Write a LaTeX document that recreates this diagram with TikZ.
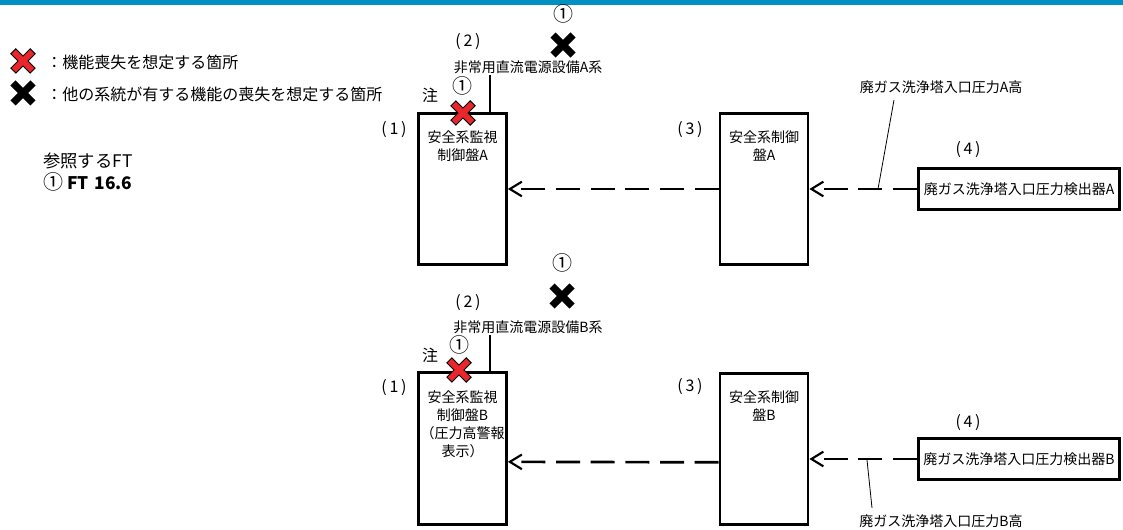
\documentclass[tikz,border=0pt]{standalone}
\usepackage{fontspec}
\setmainfont{Noto Sans CJK JP}
\usetikzlibrary{arrows.meta,positioning}
\definecolor{barblue}{RGB}{0,145,194}
\definecolor{lossred}{RGB}{232,38,43}

\begin{document}
\begin{tikzpicture}[
  x=0.75pt, y=-0.75pt,
  font=\fontsize{10.5}{13.5}\selectfont,
  panel/.style={draw,line width=2pt,minimum width=66pt,minimum height=113.5pt,inner sep=0pt},
  sensor/.style={draw,line width=2pt,minimum width=151pt,minimum height=31pt,inner sep=0pt},
  boxtext/.style={align=center,inner sep=0pt},
  tag/.style={inner sep=1pt},
  num/.style={inner sep=1pt,font=\fontsize{12}{14}\selectfont},
  circ/.style={inner sep=0pt,font=\fontsize{15}{17}\selectfont},
  legend/.style={anchor=west,inner sep=0pt,font=\fontsize{12}{14}\selectfont},
  sig/.style={-{Straight Barb[length=9pt,width=11pt,line width=1.6pt]},line width=2pt,dash pattern=on 18pt off 8pt},
  pole/.style={line width=2.2pt},
  lead/.style={line width=0.6pt},
  lossx/.pic={
    \draw[line width=6pt] (-10,-10) -- (10,10) (-10,10) -- (10,-10);
    \draw[lossred,line width=4.4pt] (-9.2,-9.2) -- (9.2,9.2) (-9.2,9.2) -- (9.2,-9.2);
  },
  otherx/.pic={
    \draw[line width=5.4pt] (-10,-10) -- (10,10) (-10,10) -- (10,-10);
  }
]
  \useasboundingbox (0,0) rectangle (1123,530);
  \fill[barblue] (0,0) rectangle (1123,5);

  % legend
  \pic at (23,61) {lossx};
  \pic at (23,93) {otherx};
  \node[legend] (legloss) at (46,62) {：機能喪失を想定する箇所};
  \node[legend] (legother) at (46,94) {：他の系統が有する機能の喪失を想定する箇所};
  \node[legend,font=\fontsize{13}{15}\selectfont] (refhead) at (43,161) {参照するFT};
  \node[legend,font=\fontsize{13}{15}\selectfont] (refft) at (43,182) {{\fontsize{15}{17}\selectfont ①} \textbf{FT\hspace{0.35em}16.6}};

  % A train
  \node[panel] (smA) at (462.5,189) {};
  \node[boxtext, below=14pt of smA.north] (smAtxt) {安全系監視\\制御盤A};
  \node[panel] (scA) at (764,189) {};
  \node[boxtext, below=14pt of scA.north] (scAtxt) {安全系制御\\盤A};
  \node[sensor] (detA) at (1019,189) {廃ガス洗浄塔入口圧力検出器A};
  \node[num] (n1A) at (394,130) {(\,1\,)};
  \node[num] (n2A) at (468,42) {(\,2\,)};
  \node[num] (n3A) at (690,130) {(\,3\,)};
  \node[num] (n4A) at (968,150) {(\,4\,)};
  \node[tag] (psA) at (528,67) {非常用直流電源設備A系};
  \node[num] (noteA) at (430,95) {注};
  \pic at (463,113) {lossx};
  \node[circ] (c1A) at (462,86) {①};
  \pic at (563,45) {otherx};
  \node[circ] (c2A) at (563,14) {①};
  \node[tag] (hiA) at (941,87) {廃ガス洗浄塔入口圧力A高};
  \draw[pole] ([xshift=20.6pt]smA.north) -- ([xshift=20.6pt]smA.north |- psA.south);
  \draw[sig] (detA) -- (scA);
  \draw[sig] (scA) -- (smA);
  \coordinate (tapA) at (878,189);
  \coordinate (tipA) at (894,100);
  \draw[lead] (tapA) -- (tipA);

  % B train
  \node[panel] (smB) at (462.5,448.5) {};
  \node[boxtext, below=14pt of smB.north] (smBtxt) {安全系監視\\制御盤B\\（圧力高警報\\表示）};
  \node[panel] (scB) at (764,449) {};
  \node[boxtext, below=14pt of scB.north] (scBtxt) {安全系制御\\盤B};
  \node[sensor] (detB) at (1019,459) {廃ガス洗浄塔入口圧力検出器B};
  \node[num] (n1B) at (394,388) {(\,1\,)};
  \node[num] (n2B) at (468,303) {(\,2\,)};
  \node[num] (n3B) at (690,387) {(\,3\,)};
  \node[num] (n4B) at (968,423) {(\,4\,)};
  \node[tag] (psB) at (528,327) {非常用直流電源設備B系};
  \node[num] (noteB) at (430,355) {注};
  \pic at (459,370) {lossx};
  \node[circ] (c1B) at (459,345) {①};
  \pic at (562,296) {otherx};
  \node[circ] (c2B) at (562,263) {①};
  \node[tag] (hiB) at (941,521) {廃ガス洗浄塔入口圧力B高};
  \draw[pole] ([xshift=20.6pt]smB.north) -- ([xshift=20.6pt]smB.north |- psB.south);
  \draw[sig] (detB.west) -- (scB.east |- detB.west);
  \draw[sig] ([yshift=-10pt]scB.west) -- ([yshift=-10pt]smB.east);
  \coordinate (tapB) at (867,460);
  \coordinate (tipB) at (872,508);
  \draw[lead] (tapB) -- (tipB);
\end{tikzpicture}
\end{document}
